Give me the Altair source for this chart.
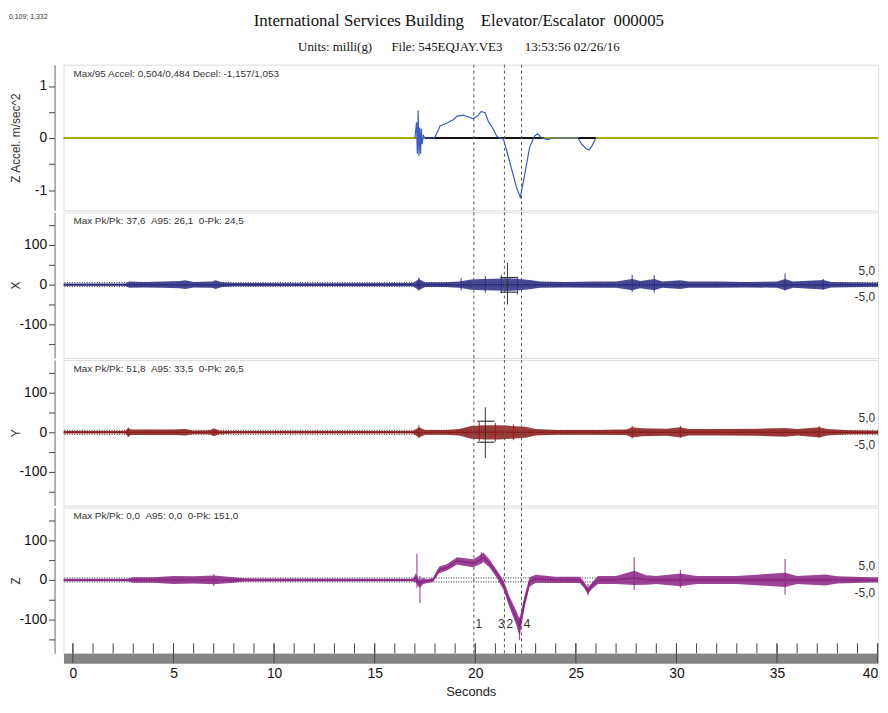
import altair as alt
import pandas as pd

NB = "\u00a0"
SANS = "Liberation Sans, Arial, sans-serif"
SERIF = "Liberation Serif, Times New Roman, serif"

# ---------------- texts ----------------
title_text = "International Services Building" + NB * 4 + "Elevator/Escalator" + NB * 2 + "000005"
subtitle_text = "Units: milli(g)" + NB * 6 + "File: 545EQJAY.VE3" + NB * 7 + "13:53:56 02/26/16"
corner_text = "0,109; 1,332"
panel_titles = ["Z Accel. m/sec^2", "X", "Y", "Z"]
panel_notes = [
    "Max/95 Accel: 0,504/0,484 Decel: -1,157/1,053",
    "Max Pk/Pk: 37,6" + NB * 2 + "A95: 26,1" + NB * 2 + "0-Pk: 24,5",
    "Max Pk/Pk: 51,8" + NB * 2 + "A95: 33,5" + NB * 2 + "0-Pk: 26,5",
    "Max Pk/Pk: 0,0" + NB * 2 + "A95: 0,0" + NB * 2 + "0-Pk: 151,0",
]
threshold_values = [5, -5]
threshold_labels = ["5,0", "-5,0"]

# ---------------- markers ----------------
marker_times = [19.93, 21.45, 22.3]
marker_label_text = ["1", "3", "2", "4"]
marker_label_times = [20.17, 21.3, 21.72, 22.58]

# ---------------- x axis ticks ----------------
second_ticks = list(range(0, 41))
major_ticks = list(range(0, 41, 5))

# ---------------- top panel: Z accel (m/sec^2) ----------------
acc_t = [17.0, 17.08, 17.12, 17.16, 17.2, 17.24, 17.28, 17.32, 17.36, 17.42, 17.5, 17.9, 18.0,
         18.25, 18.6, 18.9, 19.1, 19.4, 19.7, 19.9, 20.15, 20.3, 20.5, 20.65, 20.9, 21.06,
         21.2, 21.4, 21.7, 22.05, 22.24, 22.45, 22.7, 22.95, 23.1, 23.3, 23.6, 23.8,
         25.1, 25.3, 25.5, 25.65, 25.8, 26.0]
acc_v = [0.0, 0.3, -0.3, 0.53, -0.34, 0.2, -0.3, 0.18, -0.12, 0.05, 0.0, 0.0, 0.02,
         0.23, 0.29, 0.35, 0.42, 0.44, 0.40, 0.37, 0.44, 0.51, 0.48, 0.32, 0.17, 0.04,
         0.0, -0.02, -0.44, -0.95, -1.14, -0.72, -0.18, 0.04, 0.08, 0.0, -0.03, 0.0,
         0.0, -0.12, -0.2, -0.23, -0.15, 0.0]
acc_black_start = [17.5, 25.1]
acc_black_end = [23.4, 26.0]

# ---------------- X channel (milli g) ----------------
x_t = [-0.47, 2.6, 2.8, 3.5, 4.5, 5.3, 5.6, 6.0, 6.9, 7.1, 7.4, 8.0, 12.0, 16.9, 17.2, 17.5,
       18.5, 19.2, 19.8, 20.4, 21.0, 21.6, 22.2, 22.8, 23.2, 24.5, 26.0, 27.0, 27.8, 28.2,
       28.9, 29.3, 30.2, 30.6, 32.0, 33.5, 35.0, 35.4, 35.8, 37.3, 37.7, 40.02]
x_amp = [3, 3, 8, 7, 8, 9, 11, 7, 8, 11, 6, 4, 3.5, 4, 14, 6,
         6, 8, 13, 14, 15, 16, 14, 11, 8, 7, 8, 8, 14, 9,
         14, 8, 11, 8, 8, 7, 8, 14, 8, 12, 7, 5]
x_spike_t = [17.2, 19.3, 20.5, 21.3, 22.1, 27.8, 28.9, 35.4, 37.3]
x_spike_hi = [18, 16, 22, 24, 20, 25, 24, 28, 14]
x_spike_lo = [-15, -14, -20, -22, -25, -18, -20, -15, -12]
x_cross_t = [21.6]
x_cross_top = [55]
x_cross_bottom = [-50]
x_bar_t0 = [21.25, 21.25]
x_bar_t1 = [22.08, 22.08]
x_bar_v = [18, -19]

# ---------------- Y channel (milli g) ----------------
y_t = [-0.47, 2.6, 2.75, 2.9, 4.0, 5.0, 5.6, 6.0, 6.8, 7.0, 7.3, 8.0, 16.9, 17.2, 17.5,
       18.5, 19.2, 19.8, 20.5, 21.2, 21.8, 22.5, 23.0, 24.0, 26.0, 27.5, 27.8, 28.3, 29.5,
       30.2, 30.6, 32.0, 34.0, 35.4, 36.0, 37.1, 37.5, 38.5, 40.02]
y_amp = [3, 3, 10, 7, 7, 7, 8, 4, 5, 10, 4, 3, 3, 13, 6,
         6, 8, 16, 18, 18, 16, 14, 8, 6, 6, 7, 13, 10, 9,
         13, 8, 8, 9, 11, 8, 13, 8, 5, 4]
y_spike_t = [2.75, 17.2, 20.2, 21.0, 21.9, 27.8, 30.2, 37.1]
y_spike_hi = [12, 18, 26, 24, 20, 16, 16, 15]
y_spike_lo = [-12, -15, -22, -24, -20, -15, -14, -13]
y_cross_t = [20.5]
y_cross_top = [63]
y_cross_bottom = [-65]
y_bar_t0 = [20.1, 20.1]
y_bar_t1 = [20.95, 20.95]
y_bar_v = [28, -25]

# ---------------- Z channel (milli g) ----------------
z_t = [-0.47, 2.7, 3.0, 4.0, 5.0, 6.0, 7.0, 8.0, 8.5, 16.9, 17.05, 17.15, 17.25, 17.4,
       17.6, 17.9, 18.2, 18.6, 19.1, 19.5, 19.9, 20.2, 20.4, 20.7, 21.06, 21.4, 21.7,
       22.05, 22.2, 22.45, 22.7, 23.0, 24.0, 25.2, 25.4, 25.6, 25.8, 26.1, 27.0, 27.9,
       28.5, 29.0, 30.2, 31.0, 33.0, 35.4, 36.0, 37.4, 38.0, 40.02]
z_mid = [0, 0, 0, 0, 0, 0, 0, 0, 0, 0, 5, -5, -10, -3,
         -3, 0, 25, 32, 48, 45, 42, 50, 57, 42, 16, -13, -55,
         -97, -120, -55, -5, 3, 0, 0, -12, -28, -15, 0, 0, 5,
         0, 0, 0, 0, 0, 0, 0, 0, 0, 0]
z_amp = [3, 3, 7, 7, 10, 9, 11, 7, 4, 3, 12, 10, 10, 8,
         5, 5, 8, 8, 9, 10, 10, 11, 12, 10, 10, 12, 14,
         18, 22, 15, 12, 10, 8, 8, 8, 8, 8, 10, 10, 18,
         12, 10, 16, 10, 10, 18, 10, 14, 9, 6]
z_spike_t = [7.0, 17.1, 17.25, 20.3, 22.2, 25.6, 27.9, 30.2, 35.4]
z_spike_hi = [15, 66, 10, 70, -95, -10, 57, 25, 53]
z_spike_lo = [-15, -20, -58, 40, -152, -38, -25, -20, -37]

# ---------------- colours ----------------
COL_ACC = "#3c5ac8"
COL_ZERO = "#aaaa00"
COL_X = "#2b2d83"
COL_Y = "#8b1c1c"
COL_Z = "#8b2585"

W = 822
H = 147
xs = alt.Scale(domain=[-0.468, 40.02], nice=False, zero=False)

yaxis_style = dict(
    offset=9, grid=False, domainColor="#666", tickColor="#444", tickSize=6,
    labelFont=SANS, labelFontSize=14, labelColor="#111", labelPadding=2,
    titleFont=SANS, titleFontSize=12, titleFontWeight="normal", titleColor="#333",
    titleX=-39, titleY=H / 2, titleAlign="center", titleBaseline="middle", titleAngle=270,
)

x_axis_bottom = alt.Axis(
    values=major_ticks, title="Seconds", offset=5, domainWidth=10, domainColor="#858585",
    ticks=False, labelPadding=8, labelFont=SANS, labelFontSize=14, labelColor="#111",
    labelFlush=7, grid=False, titleFont=SANS, titleFontSize=13, titleFontWeight="normal",
    titleColor="#222", titlePadding=6,
)


def xenc(field, bottom):
    return alt.X(field, type="quantitative", scale=xs, axis=x_axis_bottom if bottom else None)


def note_layer(note):
    return alt.Chart(pd.DataFrame({"s": [note]})).mark_text(
        align="left", baseline="middle", font=SANS, fontSize=10, color="#333"
    ).encode(x=alt.value(10), y=alt.value(9), text="s:N")


def marker_layer(bottom):
    return alt.Chart(pd.DataFrame({"t": marker_times})).mark_rule(
        color="#555", strokeDash=[3, 3], strokeWidth=1
    ).encode(x=xenc("t", bottom))


# ---------------- panel 1 ----------------
ysc1 = alt.Scale(domain=[-1.39, 1.41], nice=False, zero=False)
yax1 = alt.Axis(title=panel_titles[0], values=[-1, -0.5, 0, 0.5, 1],
                labelExpr="datum.value % 1 == 0 ? '' + datum.value : ''", **yaxis_style)

acc_df = pd.DataFrame({"t": acc_t, "v": acc_v})
p1 = alt.layer(
    alt.Chart(pd.DataFrame({"v": [0]})).mark_rule(color=COL_ZERO, strokeWidth=2).encode(
        y=alt.Y("v:Q", scale=ysc1, axis=yax1)),
    alt.Chart(pd.DataFrame({"t0": acc_black_start, "t1": acc_black_end, "v": [0, 0]})).mark_rule(
        color="#111", strokeWidth=2).encode(x=xenc("t0", False), x2="t1:Q",
                                            y=alt.Y("v:Q", scale=ysc1, axis=yax1)),
    alt.Chart(acc_df).mark_line(color=COL_ACC, strokeWidth=1.2, clip=True).encode(
        x=xenc("t", False), y=alt.Y("v:Q", scale=ysc1, axis=yax1)),
    marker_layer(False),
    note_layer(panel_notes[0]),
    alt.Chart(pd.DataFrame({"s": [corner_text]})).mark_text(
        align="left", baseline="top", font=SANS, fontSize=7, color="#333"
    ).encode(x=alt.value(-55), y=alt.value(-52), text="s:N"),
).properties(width=W, height=H)


def noise_panel(t, mid, amp, spk_t, spk_hi, spk_lo, color, ytitle, note,
                cross=None, bottom=False):
    ysc = alt.Scale(domain=[-185, 182.5], nice=False, zero=False)
    yax = alt.Axis(title=ytitle, values=[-150, -100, -50, 0, 50, 100, 150],
                   labelExpr="datum.value % 100 == 0 ? '' + datum.value : ''", **yaxis_style)
    band_df = pd.DataFrame({
        "t": t,
        "lo": [m - a for m, a in zip(mid, amp)],
        "hi": [m + a for m, a in zip(mid, amp)],
        "mid": mid,
    })
    layers = [
        alt.Chart(pd.DataFrame({"v": threshold_values})).mark_rule(
            color="#222", strokeDash=[1, 1.5], strokeWidth=1).encode(
            y=alt.Y("v:Q", scale=ysc, axis=yax)),
        alt.Chart(band_df).mark_area(color=color, opacity=0.85, clip=True).encode(
            x=xenc("t", bottom), y=alt.Y("lo:Q", scale=ysc, axis=yax), y2="hi:Q"),
        alt.Chart(band_df).mark_line(color=color, strokeWidth=1.5, clip=True).encode(
            x=xenc("t", bottom), y=alt.Y("mid:Q", scale=ysc, axis=yax)),
        alt.Chart(pd.DataFrame({"t": spk_t, "hi": spk_hi, "lo": spk_lo})).mark_rule(
            color=color, strokeWidth=1.2, opacity=0.8).encode(
            x=xenc("t", bottom), y=alt.Y("hi:Q", scale=ysc, axis=yax), y2="lo:Q"),
        marker_layer(bottom),
        note_layer(note),
        alt.Chart(pd.DataFrame({"s": [threshold_labels[0]]})).mark_text(
            align="right", baseline="middle", font=SANS, fontSize=12, color="#333"
        ).encode(x=alt.value(W - 3), y=alt.value(59), text="s:N"),
        alt.Chart(pd.DataFrame({"s": [threshold_labels[1]]})).mark_text(
            align="right", baseline="middle", font=SANS, fontSize=12, color="#333"
        ).encode(x=alt.value(W - 3), y=alt.value(86), text="s:N"),
    ]
    if cross is not None:
        ct, ctop, cbot, bt0, bt1, bv = cross
        layers.append(alt.Chart(pd.DataFrame({"t": ct, "a": ctop, "b": cbot})).mark_rule(
            color="#333", strokeWidth=1).encode(
            x=xenc("t", bottom), y=alt.Y("a:Q", scale=ysc, axis=yax), y2="b:Q"))
        layers.append(alt.Chart(pd.DataFrame({"t0": bt0, "t1": bt1, "v": bv})).mark_rule(
            color="#333", strokeWidth=1.2).encode(
            x=xenc("t0", bottom), x2="t1:Q", y=alt.Y("v:Q", scale=ysc, axis=yax)))
    if bottom:
        layers.append(alt.Chart(pd.DataFrame({"t": marker_label_times, "s": marker_label_text})).mark_text(
            align="center", baseline="middle", font=SANS, fontSize=12, color="#333"
        ).encode(x=xenc("t", bottom), y=alt.value(118), text="s:N"))
        layers.append(alt.Chart(pd.DataFrame({"t": second_ticks})).mark_rule(
            color="#444", strokeWidth=1).encode(
            x=xenc("t", bottom), y=alt.value(H - 10), y2=alt.value(H)))
        layers.append(alt.Chart(pd.DataFrame({"t": major_ticks})).mark_rule(
            color="#444", strokeWidth=1).encode(
            x=xenc("t", bottom), y=alt.value(H - 10), y2=alt.value(H + 10)))
    return alt.layer(*layers).properties(width=W, height=H)


p2 = noise_panel(x_t, [0] * len(x_t), x_amp, x_spike_t, x_spike_hi, x_spike_lo, COL_X,
                 panel_titles[1], panel_notes[1],
                 cross=(x_cross_t, x_cross_top, x_cross_bottom, x_bar_t0, x_bar_t1, x_bar_v))
p3 = noise_panel(y_t, [0] * len(y_t), y_amp, y_spike_t, y_spike_hi, y_spike_lo, COL_Y,
                 panel_titles[2], panel_notes[2],
                 cross=(y_cross_t, y_cross_top, y_cross_bottom, y_bar_t0, y_bar_t1, y_bar_v))
p4 = noise_panel(z_t, z_mid, z_amp, z_spike_t, z_spike_hi, z_spike_lo, COL_Z,
                 panel_titles[3], panel_notes[3], bottom=True)

chart = alt.vconcat(p1, p2, p3, p4, spacing=0).properties(
    padding=0,
    title=alt.TitleParams(
        text=title_text, subtitle=subtitle_text, font=SERIF, fontSize=17,
        fontWeight="normal", subtitleFont=SERIF, subtitleFontSize=13,
        subtitleColor="#111", color="#111", anchor="middle", dx=15, offset=-43,
        subtitlePadding=12,
    ),
).configure_view(stroke="#555", strokeWidth=1.5).configure(background="white")

chart.save("out.html", embed_options={"renderer": "svg", "actions": False})
